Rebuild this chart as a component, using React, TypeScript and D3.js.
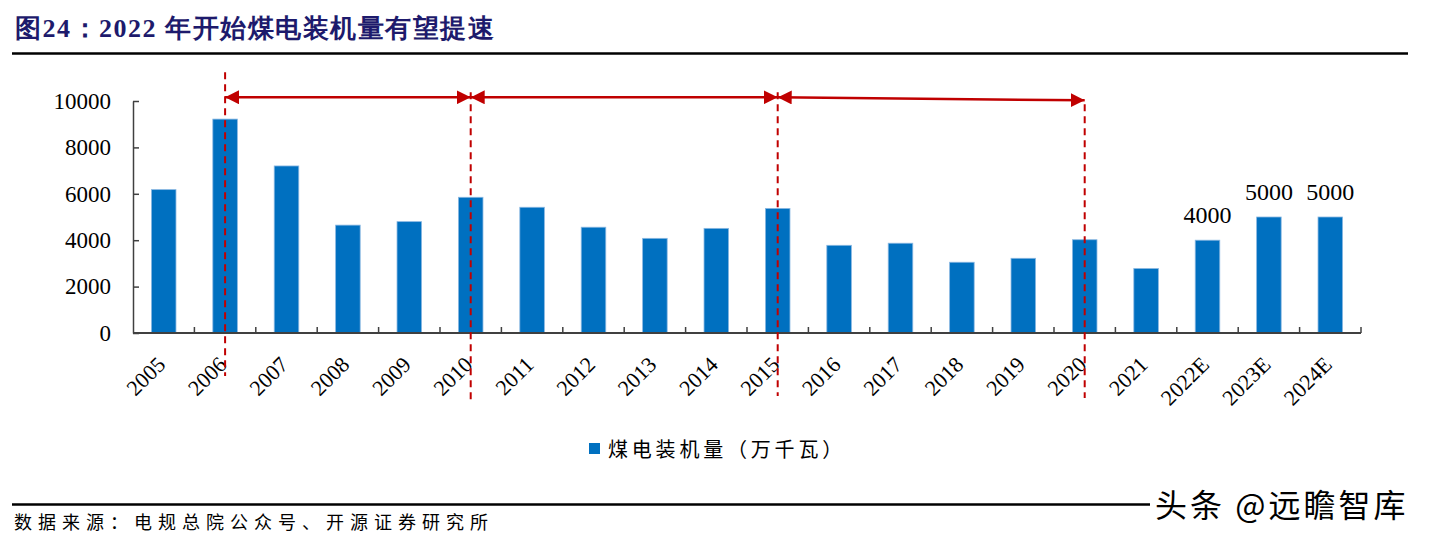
import { axisLeft, scaleBand, scaleLinear, select } from 'd3';
import React, { useEffect, useRef } from 'react';

const WIDTH = 1434;
const HEIGHT = 540;
const MARGIN_LEFT = 133;
const MARGIN_RIGHT = 73;
const Y_TOP = 101;
const Y_BOTTOM = 333;

const TITLE = '图24：2022 年开始煤电装机量有望提速';
const SOURCE = '数据来源：电规总院公众号、开源证券研究所';
const WATERMARK = '头条 @远瞻智库';
const SERIES_NAME = '煤电装机量（万千瓦）';

const years = [
  '2005', '2006', '2007', '2008', '2009', '2010', '2011', '2012', '2013', '2014',
  '2015', '2016', '2017', '2018', '2019', '2020', '2021', '2022E', '2023E', '2024E',
];
const capacity = [
  6180, 9220, 7200, 4650, 4800, 5850, 5420, 4560, 4080, 4510,
  5370, 3780, 3870, 3050, 3220, 4020, 2780, 4000, 5000, 5000,
];
const labelledYears = ['2022E', '2023E', '2024E'];
const yTicks = [0, 2000, 4000, 6000, 8000, 10000];

// annotation: dashed markers and the arrows between them (values in y units)
const markerYears = ['2006', '2010', '2015', '2020'];
const markerTops = [11240, 10380, 10380, 9860];
const markerBottoms = [43, 67, 63, 65];
const arrowStart = [10160, 10160, 10160];
const arrowEnd = [10160, 10160, 10030];

const BLUE = '#0070C0';
const RED = '#C00000';
const SERIF = "'Liberation Serif', 'Times New Roman', serif";
const CJK = "'Noto Sans CJK SC', sans-serif";

const App = (): JSX.Element => {
  const ref = useRef<SVGSVGElement>(null);

  useEffect(() => {
    if (ref.current === null) return;
    ref.current.replaceChildren();

    const x = scaleBand<string>()
      .domain(years)
      .range([MARGIN_LEFT, WIDTH - MARGIN_RIGHT])
      .paddingInner(0.6)
      .paddingOuter(0.3);
    const y = scaleLinear().domain([0, 10000]).range([Y_BOTTOM, Y_TOP]);
    const cx = (d: string) => (x(d) ?? 0) + x.bandwidth() / 2;

    const svg = select(ref.current)
      .attr('width', WIDTH)
      .attr('height', HEIGHT)
      .attr('viewBox', [0, 0, WIDTH, HEIGHT]);

    svg.append('rect').attr('width', WIDTH).attr('height', HEIGHT).attr('fill', '#fff');

    // Title and rule
    svg
      .append('text')
      .attr('x', 15)
      .attr('y', 37)
      .attr('fill', '#1d1a6c')
      .attr('font-family', SERIF)
      .attr('font-weight', 'bold')
      .attr('font-size', 26)
      .attr('letter-spacing', 1.5)
      .text(TITLE);
    svg
      .append('line')
      .attr('x1', 12)
      .attr('x2', 1408)
      .attr('y1', 53.5)
      .attr('y2', 53.5)
      .attr('stroke', '#000')
      .attr('stroke-width', 2.5);

    // Bars
    svg
      .append('g')
      .selectAll()
      .data(years)
      .join('rect')
      .attr('x', (d) => x(d) ?? 0)
      .attr('y', (_, i) => y(capacity[i]))
      .attr('width', x.bandwidth())
      .attr('height', (_, i) => y(0) - y(capacity[i]))
      .attr('fill', BLUE)
      .attr('stroke', '#8ab8e2')
      .attr('stroke-width', 0.8);

    // Value labels on forecast bars
    svg
      .append('g')
      .selectAll()
      .data(labelledYears)
      .join('text')
      .attr('x', (d) => cx(d))
      .attr('y', (d) => y(capacity[years.indexOf(d)]) - 17)
      .attr('text-anchor', 'middle')
      .attr('font-family', SERIF)
      .attr('font-size', 24)
      .attr('fill', '#000')
      .text((d) => capacity[years.indexOf(d)]);

    // y axis
    svg
      .append('g')
      .attr('transform', `translate(${MARGIN_LEFT}, 0)`)
      .call(
        axisLeft(y)
          .tickValues(yTicks)
          .tickFormat((d) => String(d))
          .tickSizeInner(-6)
          .tickSizeOuter(0)
          .tickPadding(22),
      )
      .call((g) => g.selectAll('line, path').attr('stroke', '#404040').attr('stroke-width', 1.5))
      .call((g) =>
        g.selectAll('text').attr('font-family', SERIF).attr('font-size', 23).attr('fill', '#000'),
      );

    // x axis: ticks sit on the category boundaries
    const xAxis = svg.append('g').attr('transform', `translate(0, ${Y_BOTTOM})`);
    xAxis
      .append('line')
      .attr('x1', MARGIN_LEFT)
      .attr('x2', WIDTH - MARGIN_RIGHT)
      .attr('stroke', '#404040')
      .attr('stroke-width', 2);
    xAxis
      .selectAll('line.tick')
      .data(years.slice(1).concat(['end']))
      .join('line')
      .attr('class', 'tick')
      .attr('x1', (d) => (d === 'end' ? WIDTH - MARGIN_RIGHT : (x(d) ?? 0) - x.step() * 0.3))
      .attr('x2', (d) => (d === 'end' ? WIDTH - MARGIN_RIGHT : (x(d) ?? 0) - x.step() * 0.3))
      .attr('y1', 0)
      .attr('y2', -6)
      .attr('stroke', '#404040')
      .attr('stroke-width', 1.5);
    xAxis
      .selectAll('text')
      .data(years)
      .join('text')
      .attr('transform', (d) => `translate(${cx(d) + 3}, 33) rotate(-45)`)
      .attr('text-anchor', 'end')
      .attr('font-family', SERIF)
      .attr('font-size', 22)
      .attr('fill', '#000')
      .text((d) => d);

    // Dashed markers
    svg
      .append('g')
      .selectAll()
      .data(markerYears)
      .join('line')
      .attr('x1', (d) => cx(d))
      .attr('x2', (d) => cx(d))
      .attr('y1', (_, i) => y(markerTops[i]))
      .attr('y2', (_, i) => Y_BOTTOM + markerBottoms[i])
      .attr('stroke', RED)
      .attr('stroke-width', 2)
      .attr('stroke-dasharray', '7,5');

    // Double-headed arrows between markers
    const defs = svg.append('defs');
    defs
      .append('marker')
      .attr('id', 'head')
      .attr('viewBox', '0 0 14 14')
      .attr('refX', 14)
      .attr('refY', 7)
      .attr('markerWidth', 14)
      .attr('markerHeight', 14)
      .attr('markerUnits', 'userSpaceOnUse')
      .attr('orient', 'auto-start-reverse')
      .append('path')
      .attr('d', 'M0,0 L14,7 L0,14 Z')
      .attr('fill', RED);

    svg
      .append('g')
      .selectAll()
      .data(markerYears.slice(1))
      .join('line')
      .attr('x1', (_, i) => cx(markerYears[i]))
      .attr('x2', (d) => cx(d))
      .attr('y1', (_, i) => y(arrowStart[i]))
      .attr('y2', (_, i) => y(arrowEnd[i]))
      .attr('stroke', RED)
      .attr('stroke-width', 2.5)
      .attr('marker-start', 'url(#head)')
      .attr('marker-end', 'url(#head)');

    // Legend
    svg
      .append('rect')
      .attr('x', 589)
      .attr('y', 443)
      .attr('width', 11)
      .attr('height', 11)
      .attr('fill', BLUE);
    svg
      .append('text')
      .attr('x', 608)
      .attr('y', 457)
      .attr('font-family', CJK)
      .attr('font-size', 20)
      .attr('letter-spacing', 3.8)
      .attr('fill', '#000')
      .text(SERIES_NAME);

    // Footer
    svg
      .append('line')
      .attr('x1', 12)
      .attr('x2', 1150)
      .attr('y1', 504.5)
      .attr('y2', 504.5)
      .attr('stroke', '#000')
      .attr('stroke-width', 2.5);
    svg
      .append('text')
      .attr('x', 14)
      .attr('y', 529)
      .attr('font-family', CJK)
      .attr('font-size', 18)
      .attr('letter-spacing', 6)
      .attr('fill', '#000')
      .text(SOURCE);
    svg
      .append('text')
      .attr('x', 1155)
      .attr('y', 517)
      .attr('font-family', CJK)
      .attr('font-size', 32)
      .attr('letter-spacing', 3)
      .attr('fill', '#000')
      .attr('stroke', '#fff')
      .attr('stroke-width', 2.5)
      .attr('paint-order', 'stroke')
      .text(WATERMARK);
  }, [ref]);

  return <svg ref={ref} style={{ position: 'absolute', left: 0, top: 0 }} />;
};

export default App;
